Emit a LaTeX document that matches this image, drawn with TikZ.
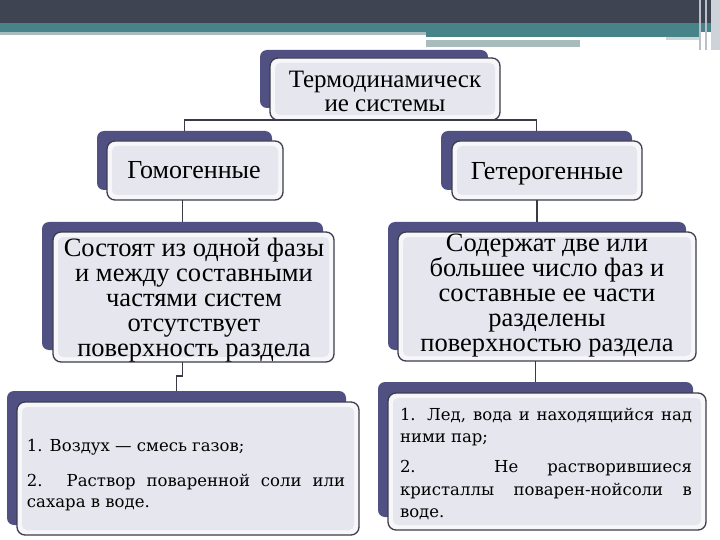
\documentclass[tikz,border=0pt]{standalone}
\usepackage{fontspec}
\setmainfont{Liberation Serif}
\newfontfamily\lowfont{DejaVu Serif}
\usetikzlibrary{calc}
\definecolor{backc}{HTML}{505182}
\definecolor{edgec}{HTML}{3C3C4E}
\definecolor{lavc}{HTML}{E6E6EF}
\definecolor{rimc}{HTML}{F7F7FA}
\definecolor{linec}{HTML}{3A3A46}
\definecolor{hdark}{HTML}{3E4452}
\definecolor{hteal}{HTML}{468489}
\definecolor{hgray}{HTML}{A8BCBE}
\definecolor{hstripe}{HTML}{B9C0CA}
\tikzset{
  backbox/.style={fill=backc, draw=none, rounded corners=7pt, inner sep=0pt, outer sep=0pt},
  frontbox/.style={fill=rimc, draw=edgec, line width=1.3pt, rounded corners=8pt, inner sep=0pt, outer sep=0pt},
  conn/.style={draw=linec, line width=1.4pt},
  bigtext/.style={align=center, inner sep=0pt, font=\fontsize{25}{24}\selectfont},
  levtwo/.style={inner sep=0pt, anchor=base, font=\fontsize{26}{26}\selectfont},
  midtext/.style={align=center, inner sep=0pt, font=\fontsize{26.5}{25}\selectfont},
  lowtext/.style={align=justify, inner sep=0pt}
}
\newcommand{\innerfill}[1]{\fill[lavc, rounded corners=5pt] ($(#1.south west)+(5pt,5pt)$) rectangle ($(#1.north east)+(-5pt,-5pt)$);}
\begin{document}
\begin{tikzpicture}[x=1pt,y=-1pt]
\useasboundingbox (0,0) rectangle (720,540);
\fill[white] (0,0) rectangle (720,540);
% header bands
\fill[hdark] (0,0) rectangle (720,23);
\fill[hteal] (0,23) rectangle (720,32);
\fill[hgray] (0,32) rectangle (426,35);
\fill[hteal] (426,32) rectangle (700,37);
\fill[hgray!60] (426,37) rectangle (700,40);
\fill[white] (426,37) rectangle (666,40);
\fill[hgray] (426,40) rectangle (580,47);
\fill[hstripe] (699,0) rectangle (701,50);
\fill[hstripe] (705,0) rectangle (707,50);
\fill[hstripe!70] (711,0) rectangle (720,50);

% back boxes
\node[backbox, minimum width=228pt, minimum height=58pt] (topb) at (374,79) {};
\node[backbox, minimum width=175pt, minimum height=59pt] (gomb) at (184.5,160.5) {};
\node[backbox, minimum width=191pt, minimum height=59pt] (getb) at (536.5,160.5) {};
\node[backbox, minimum width=281pt, minimum height=128pt] (l3b) at (182.5,286) {};
\node[backbox, minimum width=298pt, minimum height=128pt] (r3b) at (537,286) {};
\node[backbox, minimum width=339pt, minimum height=134pt] (l4b) at (176.5,458) {};
\node[backbox, minimum width=315pt, minimum height=135pt] (r4b) at (535.5,449.5) {};

% front boxes
\node[frontbox, minimum width=230pt, minimum height=62pt] (top) at (385,89) {};
\innerfill{top}
\node[frontbox, minimum width=176pt, minimum height=59pt] (gom) at (195,170.5) {};
\innerfill{gom}
\node[frontbox, minimum width=190pt, minimum height=59pt] (get) at (547,170.5) {};
\innerfill{get}
\node[frontbox, minimum width=281pt, minimum height=130pt] (l3) at (193.5,297) {};
\innerfill{l3}
\node[frontbox, minimum width=298pt, minimum height=129pt] (r3) at (547,296.5) {};
\innerfill{r3}
\node[frontbox, minimum width=342pt, minimum height=133pt] (l4) at (188,468.5) {};
\innerfill{l4}
\node[frontbox, minimum width=318pt, minimum height=137pt] (r4) at (547,461.5) {};
\innerfill{r4}

% texts
\node[bigtext] (toptext) at (385,91) {Термодинамическ\\ие системы};
\node[levtwo] (gomtext) at (194,179) {Гомогенные};
\node[levtwo] (gettext) at (547,180) {Гетерогенные};
\node[midtext] (l3text) at (194,300.5) {Состоят из одной фазы\\и между составными\\частями систем\\отсутствует\\поверхность раздела};
\node[midtext] (r3text) at (547,295.5) {Содержат две или\\большее число фаз и\\составные ее части\\разделены\\поверхностью раздела};
\node[lowtext, text width=318pt, font=\lowfont\fontsize{16.5}{20.5}\selectfont] (l4text) at (186,475) {\hyphenpenalty=10000\exhyphenpenalty=10000 1. Воздух — смесь газов;\par\vspace{14.5pt}2. Раствор поваренной соли или сахара в воде.};
\node[lowtext, text width=292pt, font=\lowfont\fontsize{16.5}{22.3}\selectfont] (r4text) at (546,464) {\hyphenpenalty=10000\exhyphenpenalty=10000 1. Лед, вода и находящийся над ними пар;\par\vspace{7.5pt}2. Не растворившиеся кристаллы поварен-нойсоли в воде.};

% connectors
\draw[conn] (gomb.north) |- (top.south) -| (getb.north);
\draw[conn] (gom.south -| l3b.north) -- (l3b.north);
\draw[conn] (get.south -| r3b.north) -- (r3b.north);
\draw[conn] (l3.south -| l3b.north) -- ++(0,14) -| (l4b.north);
\draw[conn] (r3.south -| r4b.north) -- (r4b.north);
\end{tikzpicture}
\end{document}
